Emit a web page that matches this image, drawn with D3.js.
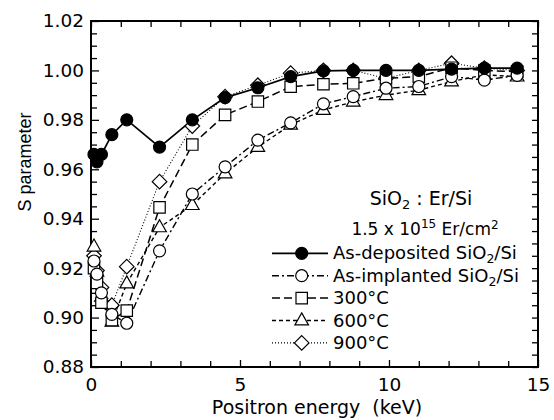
<!DOCTYPE html>
<html><head><meta charset="utf-8">
<script src="https://cdn.jsdelivr.net/npm/d3@7"></script>
<style>body{margin:0;background:#fff}svg{display:block}</style>
</head><body><svg id="c" width="554" height="420"></svg>
<script>
// ---- data ----
const energy = [0.1, 0.2, 0.35, 0.7, 1.2, 2.3, 3.4, 4.5, 5.6, 6.7, 7.8, 8.8, 9.9, 11.0, 12.1, 13.2, 14.3];
const asDeposited = [0.966, 0.963, 0.966, 0.974, 0.980, 0.969, 0.980, 0.989, 0.993, 0.9975, 0.9998, 1.000, 1.000, 1.000, 1.0005, 1.0009, 1.0009];
const asImplanted = [0.9229, 0.9176, 0.910, 0.9013, 0.8977, 0.927, 0.950, 0.961, 0.9718, 0.9788, 0.9865, 0.9894, 0.9928, 0.9935, 0.9975, 0.9961, 0.998];
const anneal300 = [0.920, 0.914, 0.906, 0.899, 0.9028, 0.9446, 0.970, 0.982, 0.9874, 0.9934, 0.9944, 0.9948, 0.9968, 0.9975, 1.0011, 1.000, 0.9995];
const anneal600 = [0.9287, 0.9185, 0.9084, 0.8983, 0.9138, 0.9365, 0.9455, 0.9583, 0.969, 0.978, 0.984, 0.9873, 0.990, 0.992, 0.9955, 0.9982, 0.9975];
const anneal900 = [0.925, 0.919, 0.9122, 0.905, 0.9206, 0.955, 0.9775, 0.9894, 0.994, 0.9989, 1.000, 1.000, 0.9968, 1.000, 1.0029, 1.0009, 1.000];
const seriesLabels = ["As-deposited SiO2/Si", "As-implanted SiO2/Si", "300°C", "600°C", "900°C"];
const xTickLabels = [0, 5, 10, 15];
const yTickLabels = [0.88, 0.90, 0.92, 0.94, 0.96, 0.98, 1.00, 1.02];

// ---- setup ----
const svg = d3.select("#c");
const FONT = "DejaVu Sans";
const x = d3.scaleLinear().domain([0, 15]).range([91, 538]);
const y = d3.scaleLinear().domain([0.88, 1.02]).range([367, 21]);

const xMinor = d3.range(0, 16).filter(v => v % 5 !== 0);
const xAll = d3.range(0, 16);
const yAll = d3.range(0, 29).map(i => +(0.88 + i * 0.005).toFixed(3));
const yMinor = yAll.filter(v => !yTickLabels.some(t => Math.abs(t - v) < 1e-6));

function styleAxis(g) {
  g.select(".domain").remove();
  g.selectAll("line").attr("stroke", "#000").attr("stroke-width", 1.3);
  g.selectAll("text").attr("font-family", FONT).attr("font-size", 18.5).attr("fill", "#000");
}
svg.append("g").attr("transform", "translate(0,367)")
  .call(d3.axisBottom(x).tickValues(xTickLabels).tickSize(-7).tickPadding(11).tickFormat(d3.format("d"))).call(styleAxis);
svg.append("g").attr("transform", "translate(0,367)")
  .call(d3.axisBottom(x).tickValues(xMinor).tickSize(-6).tickFormat("")).call(styleAxis);
svg.append("g").attr("transform", "translate(0,21)")
  .call(d3.axisTop(x).tickValues(xAll).tickSize(-6).tickFormat("")).call(styleAxis);
svg.append("g").attr("transform", "translate(91,0)")
  .call(d3.axisLeft(y).tickValues(yTickLabels).tickSize(-8).tickPadding(7).tickFormat(d3.format(".2f"))).call(styleAxis);
svg.append("g").attr("transform", "translate(91,0)")
  .call(d3.axisLeft(y).tickValues(yMinor).tickSize(-6).tickFormat("")).call(styleAxis);
svg.append("g").attr("transform", "translate(538,0)")
  .call(d3.axisRight(y).tickValues(yAll).tickSize(-6).tickFormat("")).call(styleAxis);

svg.append("rect").attr("x", x(0)).attr("y", y(1.02)).attr("width", x(15) - x(0)).attr("height", y(0.88) - y(1.02))
  .attr("fill", "none").attr("stroke", "#000").attr("stroke-width", 2);

// axis titles
svg.append("text").attr("x", 317).attr("y", 414).attr("text-anchor", "middle")
  .attr("font-family", FONT).attr("font-size", 19).attr("fill", "#000")
  .attr("xml:space", "preserve").style("white-space", "pre").text("Positron energy  (keV)");
svg.append("text").attr("transform", "translate(31,162) rotate(-90)").attr("text-anchor", "middle")
  .attr("font-family", "Liberation Sans").attr("font-size", 18).attr("fill", "#000").text("S parameter");

// ---- series ----
const markers = {
  circle: (r => `M${-r},0A${r},${r} 0 1,0 ${r},0A${r},${r} 0 1,0 ${-r},0Z`)(6),
  square: (h => `M${-h},${-h}H${h}V${h}H${-h}Z`)(5.7),
  triangle: "M0,-7.6L6.8,4.4L-6.8,4.4Z",
  diamond: (h => `M0,${-h}L${h},0L0,${h}L${-h},0Z`)(7.3)
};
const series = [
  { values: asDeposited, dash: null, width: 1.7, marker: "circle", fill: "#000" },
  { values: asImplanted, dash: "7,3,2,3", width: 1.4, marker: "circle", fill: "#fff" },
  { values: anneal300, dash: "8,4", width: 1.5, marker: "square", fill: "#fff" },
  { values: anneal600, dash: "4,3", width: 1.4, marker: "triangle", fill: "#fff" },
  { values: anneal900, dash: "1,2", width: 1.1, marker: "diamond", fill: "#fff" }
];
series.forEach((s, i) => { s.label = seriesLabels[i]; s.points = energy.map((e, j) => [e, s.values[j]]); });

const line = d3.line().x(d => x(d[0])).y(d => y(d[1]));
const plot = svg.append("g");
series.forEach(s => {
  plot.append("path").attr("d", line(s.points)).attr("fill", "none").attr("stroke", "#000")
    .attr("stroke-width", s.width).attr("stroke-dasharray", s.dash);
});
const order = [4, 3, 2, 1, 0];
order.forEach(i => {
  const s = series[i];
  plot.selectAll(null).data(s.points).enter().append("path")
    .attr("d", markers[s.marker]).attr("transform", d => `translate(${x(d[0])},${y(d[1])})`)
    .attr("fill", s.fill).attr("stroke", "#000").attr("stroke-width", 1.2);
});

// ---- legend ----
const lg = svg.append("g").attr("font-family", FONT).attr("fill", "#000");
const t1 = lg.append("text").attr("x", 421).attr("y", 205).attr("text-anchor", "middle").attr("font-size", 19);
t1.append("tspan").text("SiO");
t1.append("tspan").attr("font-size", 13).attr("dy", 4).text("2");
t1.append("tspan").attr("dy", -4).text(" : Er/Si");
const t2 = lg.append("text").attr("x", 425).attr("y", 235).attr("text-anchor", "middle").attr("font-size", 17);
t2.append("tspan").text("1.5 x 10");
t2.append("tspan").attr("font-size", 12).attr("dy", -7).text("15");
t2.append("tspan").attr("dy", 7).text(" Er/cm");
t2.append("tspan").attr("font-size", 12).attr("dy", -6).text("2");

series.forEach((s, i) => {
  const cy = 253.3 + i * 22.4;
  lg.append("line").attr("x1", 272).attr("x2", 328).attr("y1", cy).attr("y2", cy)
    .attr("stroke", "#000").attr("stroke-width", s.width).attr("stroke-dasharray", s.dash);
  lg.append("path").attr("d", markers[s.marker]).attr("transform", `translate(301.7,${cy})`)
    .attr("fill", s.fill).attr("stroke", "#000").attr("stroke-width", 1.2);
  const t = lg.append("text").attr("x", 333).attr("y", cy + 6).attr("font-size", 18);
  const parts = s.label.split("2/");
  if (parts.length === 2) {
    t.append("tspan").text(parts[0]);
    t.append("tspan").attr("font-size", 12.5).attr("dy", 4).text("2");
    t.append("tspan").attr("dy", -4).text("/" + parts[1]);
  } else {
    t.text(s.label);
  }
});
</script>
</body></html>
